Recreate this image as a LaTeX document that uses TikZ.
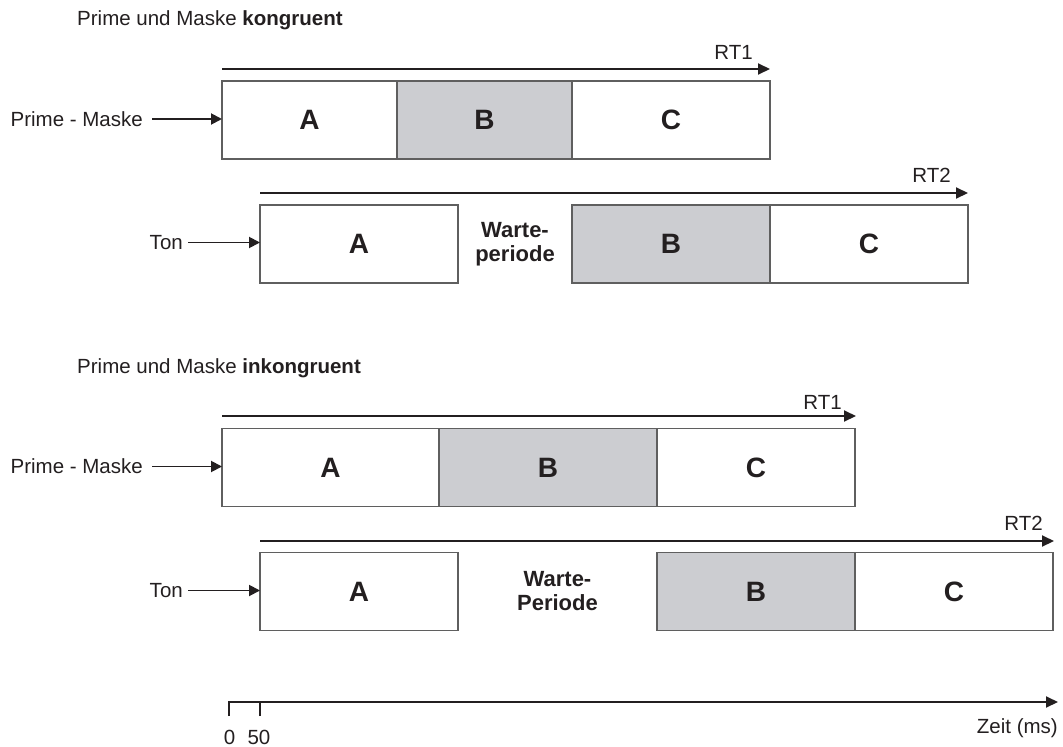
\documentclass[tikz,border=0pt]{standalone}
\usepackage{fontspec}
\setmainfont{Liberation Sans}
\usetikzlibrary{arrows.meta,calc}

\definecolor{stagegray}{RGB}{204,205,209}
\definecolor{edgegray}{RGB}{95,95,95}
\definecolor{ink}{RGB}{35,31,32}

\tikzset{
  stage/.style={draw=edgegray, line width=1.3pt, fill=white, minimum height=78pt,
    inner sep=0pt, outer sep=0pt, anchor=north west,
    font=\fontsize{28}{30}\selectfont\bfseries, text=ink},
  held/.style={stage, fill=stagegray},
  timeline/.style={draw=ink, line width=2pt, -{Triangle[length=12pt,width=11pt]}},
  feed/.style={draw=ink, line width=1.9pt, -{Triangle[length=11pt,width=11pt]}},
  plain/.style={font=\fontsize{20.5}{24}\selectfont, text=ink, inner sep=0pt},
  pause/.style={font=\fontsize{22}{24}\selectfont\bfseries, align=center, text=ink, inner sep=0pt},
  axisline/.style={draw=ink, line width=1.9pt},
}

\begin{document}
\begin{tikzpicture}[x=1pt,y=-1pt]
\useasboundingbox (0,0) rectangle (1063,747);

% ---------- congruent condition ----------
\node[plain, anchor=base west] (h1) at (77,25.5) {Prime und Maske \textbf{kongruent}};

% prime-mask sequence
\node[stage, minimum width=175pt] (a1) at (222,81) {A};
\node[held,  minimum width=175pt] (b1) at (a1.north east) {B};
\node[stage, minimum width=198pt] (c1) at (b1.north east) {C};
\coordinate (rt1s) at (222,69);
\coordinate (rt1e) at (770,69);
\draw[timeline] (rt1s) -- (rt1e);
\node[plain, anchor=base east] (rt1) at (753,59) {RT1};
\node[plain, anchor=east] (pm1) at (143,119) {Prime - Maske};
\draw[feed, shorten <=9pt] (pm1.east) -- (pm1.east -| a1.west);

% tone sequence
\node[stage, minimum width=198pt] (a2) at (260,205) {A};
\node[held,  minimum width=198pt] (b2) at (572,205) {B};
\node[stage, minimum width=198pt] (c2) at (b2.north east) {C};
\node[pause] (w2) at ($(a2.east)!0.5!(b2.west)$) {Warte-\\periode};
\coordinate (rt2s) at (260,193);
\coordinate (rt2e) at (968,193);
\draw[timeline] (rt2s) -- (rt2e);
\node[plain, anchor=base east] (rt2) at (951,182) {RT2};
\node[plain, anchor=east] (ton2) at (183,242.5) {Ton};
\draw[feed, shorten <=5pt] (ton2.east) -- (ton2.east -| a2.west);

% ---------- incongruent condition ----------
\node[plain, anchor=base west] (h2) at (77,373.5) {Prime und Maske \textbf{inkongruent}};

% prime-mask sequence
\node[stage, minimum width=217pt] (a3) at (222,428.5) {A};
\node[held,  minimum width=218pt] (b3) at (a3.north east) {B};
\node[stage, minimum width=198pt] (c3) at (b3.north east) {C};
\coordinate (rt3s) at (222,416);
\coordinate (rt3e) at (856,416);
\draw[timeline] (rt3s) -- (rt3e);
\node[plain, anchor=base east] (rt3) at (842,409) {RT1};
\node[plain, anchor=east] (pm3) at (143,466.5) {Prime - Maske};
\draw[feed, shorten <=9pt] (pm3.east) -- (pm3.east -| a3.west);

% tone sequence
\node[stage, minimum width=198pt] (a4) at (260,552.5) {A};
\node[held,  minimum width=198pt] (b4) at (657,552.5) {B};
\node[stage, minimum width=198pt] (c4) at (b4.north east) {C};
\node[pause] (w4) at ($(a4.east)!0.5!(b4.west)$) {Warte-\\Periode};
\coordinate (rt4s) at (260,541);
\coordinate (rt4e) at (1054,541);
\draw[timeline] (rt4s) -- (rt4e);
\node[plain, anchor=base east] (rt4) at (1043,530) {RT2};
\node[plain, anchor=east] (ton4) at (183,590.5) {Ton};
\draw[feed, shorten <=5pt] (ton4.east) -- (ton4.east -| a4.west);

% ---------- time axis ----------
\coordinate (t0low) at (229,716);
\coordinate (t0) at (229,702);
\coordinate (axend) at (1058,702);
\coordinate (t50) at (260,702);
\coordinate (t50low) at (260,716);
\draw[axisline, line join=miter] (t0low) -- (t0) -- (t50);
\draw[axisline] (t50low) -- (t50);
\draw[timeline, line width=1.9pt] (t50) -- (axend);
\node[plain, anchor=base] (l0) at (229.5,744.5) {0};
\node[plain, anchor=base] (l50) at (259,744.5) {50};
\node[plain, anchor=base east] (zeit) at (1058,733) {Zeit (ms)};
\end{tikzpicture}
\end{document}
